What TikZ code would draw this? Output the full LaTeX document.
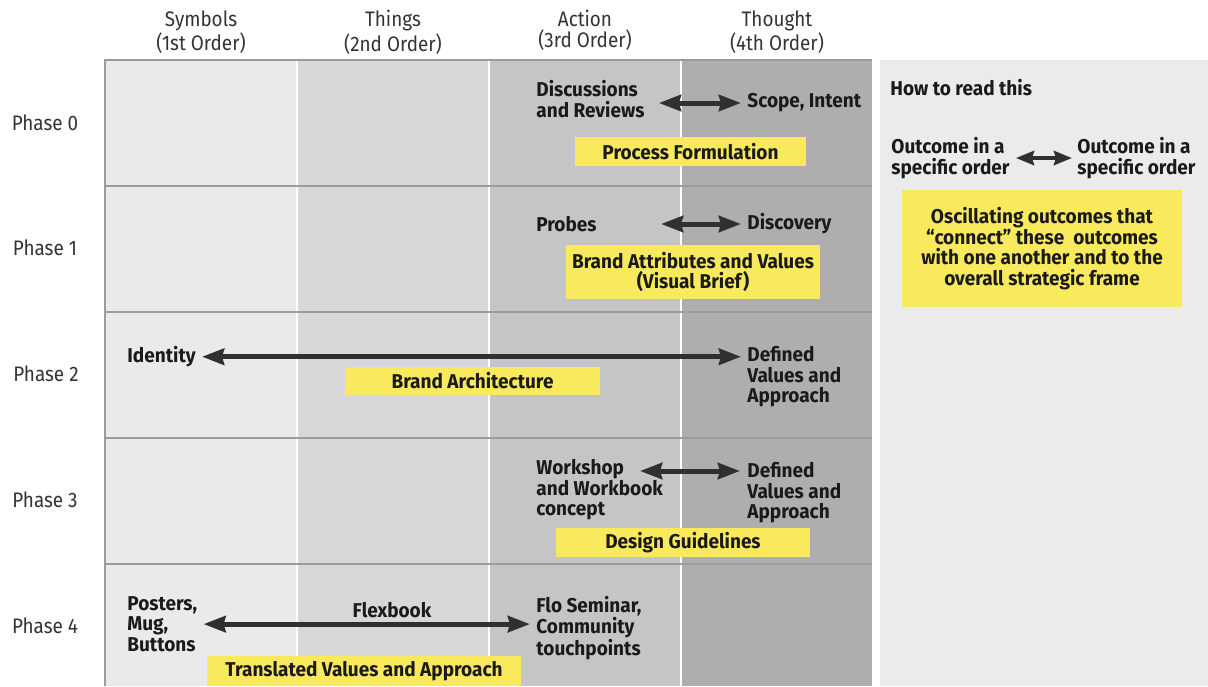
\documentclass[tikz,border=0pt]{standalone}
\usepackage{fontspec}
\setmainfont{Fira Sans}[UprightFeatures={FakeStretch=0.9}, BoldFeatures={FakeStretch=0.95}]
\usetikzlibrary{arrows.meta,calc}

\definecolor{symcol}{HTML}{EAEAEA}
\definecolor{thingcol}{HTML}{D8D8D8}
\definecolor{actcol}{HTML}{C5C5C5}
\definecolor{thoughtcol}{HTML}{AEAEAE}
\definecolor{panelcol}{HTML}{EBEBEB}
\definecolor{rulecol}{HTML}{9C9C9C}
\definecolor{hiyellow}{HTML}{F8EA5C}
\definecolor{inkcol}{HTML}{1A1A1A}
\definecolor{arrowcol}{HTML}{303030}

\tikzset{
  head/.style={font=\fontsize{10.5}{10.5}\selectfont, text=black!80, align=center, anchor=north, inner sep=0pt},
  phase/.style={font=\fontsize{10.5}{12}\selectfont, text=black!80, inner sep=0pt},
  outcome/.style={font=\bfseries\fontsize{10}{10.3}\selectfont, text=inkcol, align=left, anchor=north west, inner sep=0pt},
  frame/.style={fill=hiyellow, font=\bfseries\fontsize{10}{10.3}\selectfont, text=inkcol, align=center, inner sep=0pt},
  twoway/.style={{Stealth[length=11pt,width=8pt,inset=1pt]}-{Stealth[length=11pt,width=8pt,inset=1pt]}, line width=2.5pt, draw=arrowcol, shorten <=3pt, shorten >=3pt},
  legendarrow/.style={{Stealth[length=9pt,width=7pt,inset=1pt]}-{Stealth[length=9pt,width=7pt,inset=1pt]}, line width=2pt, draw=arrowcol, shorten <=3pt, shorten >=2.5pt}
}

\begin{document}
\begin{tikzpicture}[x=0.5pt, y=-0.5pt]
\useasboundingbox (0,0) rectangle (1208,686);

% Order columns
\fill[symcol] (105,60) rectangle (297,686);
\fill[thingcol] (297,60) rectangle (489,686);
\fill[actcol] (489,60) rectangle (681,686);
\fill[thoughtcol] (681,60) rectangle (872,686);
\fill[panelcol] (880,60) rectangle (1208,686);

% Rules
\draw[white, line width=0.8pt] (297,60) -- (297,686);
\draw[white, line width=0.8pt] (489,60) -- (489,686);
\draw[white, line width=0.8pt] (681,60) -- (681,686);
\draw[rulecol, line width=1pt] (105,686) -- (105,60) -- (872,60);
\draw[rulecol, line width=1pt] (105,186) -- (872,186);
\draw[rulecol, line width=1pt] (105,312) -- (872,312);
\draw[rulecol, line width=1pt] (105,438) -- (872,438);
\draw[rulecol, line width=1pt] (105,564) -- (872,564);

% Column heads
\node[head] (symbols) at (201,10) {Symbols\\(1st Order)};
\node[head] (things) at (393,10) {Things\\(2nd Order)};
\node[head] (action) at (585,10) {Action\\(3rd Order)};
\node[head] (thought) at (777,10) {Thought\\(4th Order)};

% Phases
\node[phase] (p0) at (45,123) {Phase 0};
\node[phase] (p1) at (45,248) {Phase 1};
\node[phase] (p2) at (46,374) {Phase 2};
\node[phase] (p3) at (45,500) {Phase 3};
\node[phase] (p4) at (45,626) {Phase 4};

% Phase 0
\node[outcome] (disc) at (536,80) {Discussions\\and Reviews};
\node[outcome, anchor=west] (scope) at (747,103) {Scope, Intent};
\draw[twoway, shorten <=7pt] (disc.east |- scope.west) -- (scope.west);
\node[frame, minimum width=115.5pt, minimum height=14.5pt] (procform) at (690.5,151.5) {Process Formulation};

% Phase 1
\node[outcome, anchor=west] (probes) at (536,224) {Probes};
\node[outcome, anchor=west] (discovery) at (747,224) {Discovery};
\draw[twoway, shorten <=32pt] (probes.east) -- (discovery.west);
\node[frame, minimum width=127pt, minimum height=27pt] (brandattr) at (693,272) {Brand Attributes and Values\\(Visual Brief)};

% Phase 2
\node[outcome] (identity) at (127,346) {Identity};
\node[outcome] (defined2) at (747,346) {Defined\\Values and\\Approach};
\draw[twoway] (identity.east) -- (identity.east -| defined2.west);
\node[frame, minimum width=127.5pt, minimum height=14pt] (brandarch) at (472.5,381) {Brand Architecture};

% Phase 3
\node[outcome] (workshop) at (536,459) {Workshop\\and Workbook\\concept};
\node[outcome] (defined3) at (747,462) {Defined\\Values and\\Approach};
\draw[twoway] ([shift={(98,12)}]workshop.north west) -- ([shift={(-1,9)}]defined3.north west);
\node[frame, minimum width=127pt, minimum height=14.5pt] (design) at (683,542.5) {Design Guidelines};

% Phase 4
\node[outcome] (posters) at (127,596) {Posters,\\Mug,\\Buttons};
\node[outcome] (flo) at (536,596) {Flo Seminar,\\Community\\touchpoints};
\draw[twoway] (posters.east) -- (posters.east -| flo.west);
\node[outcome, anchor=north] (flexbook) at (392,602) {Flexbook};
\node[frame, minimum width=157pt, minimum height=15pt] (translated) at (364,671) {Translated Values and Approach};

% How to read this
\node[outcome] (howto) at (890,79) {How to read this};
\node[outcome] (outleft) at (891,137) {Outcome in a\\specific order};
\node[outcome] (outright) at (1077,137) {Outcome in a\\specific order};
\draw[legendarrow] (outleft.east) -- (outright.west);
\node[frame, minimum width=140pt, minimum height=58.5pt] (oscill) at (1042,248.5) {Oscillating outcomes that\\“connect” these\ \ outcomes\\with one another and to the\\overall strategic frame};
\end{tikzpicture}
\end{document}
